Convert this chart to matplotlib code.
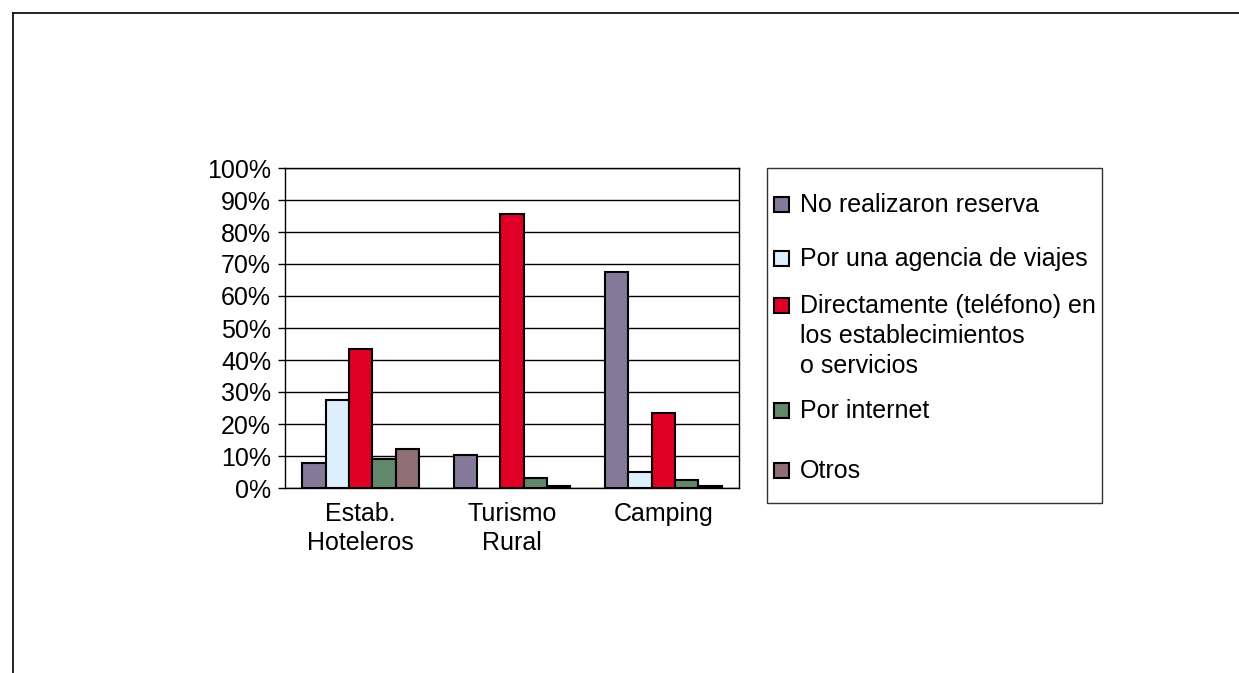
import numpy as np
import matplotlib.pyplot as plt
from matplotlib.patches import Rectangle
from matplotlib.lines import Line2D
from matplotlib.ticker import PercentFormatter

plt.rcParams['font.family'] = ['Liberation Sans', 'DejaVu Sans']

# Categories and series (share of visitors, %)
categories = ["Estab.\nHoteleros", "Turismo\nRural", "Camping"]
series_names = [
    "No realizaron reserva",
    "Por una agencia de viajes",
    "Directamente (teléfono) en\nlos establecimientos\no servicios",
    "Por internet",
    "Otros",
]
no_reserva = [7.7, 10.3, 67.6]
agencia = [27.6, 0.0, 5.0]
directamente = [43.3, 85.5, 23.4]
internet = [9.1, 3.1, 2.5]
otros = [12.3, 0.6, 0.6]

colors = ["#85799a", "#ddeefc", "#e00025", "#62886b", "#8f6e75"]

W, H = 1239, 673
fig = plt.figure(figsize=(W / 100, H / 100), dpi=100)
ax = fig.add_axes([285 / W, 1 - 488 / H, 454 / W, 320 / H])

x = np.arange(len(categories))
bw = 0.154
all_series = [no_reserva, agencia, directamente, internet, otros]
for i, (vals, col) in enumerate(zip(all_series, colors)):
    v = np.array(vals, dtype=float) / 100
    v[v == 0] = np.nan  # Excel draws nothing for an empty value
    ax.bar(x + (i - 2) * bw, v, width=bw, color=col, edgecolor='black',
           linewidth=1.5, zorder=3)

ax.set_xlim(-0.5, 2.5)
ax.set_ylim(0, 1)
ax.set_yticks(np.arange(0, 1.01, 0.1))
ax.yaxis.set_major_formatter(PercentFormatter(1.0, decimals=0))
ax.yaxis.grid(True, color='black', linewidth=1)
ax.set_axisbelow(True)
ax.set_xticks(x)
ax.set_xticklabels(categories, linespacing=1.25)
ax.tick_params(axis='y', labelsize=18, length=5, width=1, direction='out', pad=5)
ax.tick_params(axis='x', labelsize=18, length=0, pad=10)
for s in ax.spines.values():
    s.set_color('black')
    s.set_linewidth(1)

# Legend, laid out by hand (pixel positions from the top)
def fx(px):
    return px / W

def fy(py):
    return 1 - py / H

fig.patches.append(Rectangle((fx(767), fy(503)), 335 / W, 335 / H,
                             transform=fig.transFigure, fill=False,
                             edgecolor='#333333', linewidth=1))
baselines = [[212], [266], [313, 343, 373], [418], [478]]
for name, col, bls in zip(series_names, colors, baselines):
    fig.patches.append(Rectangle((fx(774), fy(bls[0])), 15 / W, 15 / H,
                                 transform=fig.transFigure, facecolor=col,
                                 edgecolor='black', linewidth=1.5))
    for line, b in zip(name.split("\n"), bls):
        fig.text(fx(800), fy(b), line, fontsize=18, va='baseline', ha='left')

# Outer frame
fig.add_artist(Line2D([13 / W, 1], [1 - 13 / H, 1 - 13 / H],
                      transform=fig.transFigure, color='black', linewidth=1.2))
fig.add_artist(Line2D([13 / W, 13 / W], [0, 1 - 13 / H],
                      transform=fig.transFigure, color='black', linewidth=1.2))

fig.savefig("out.png", dpi=100)
